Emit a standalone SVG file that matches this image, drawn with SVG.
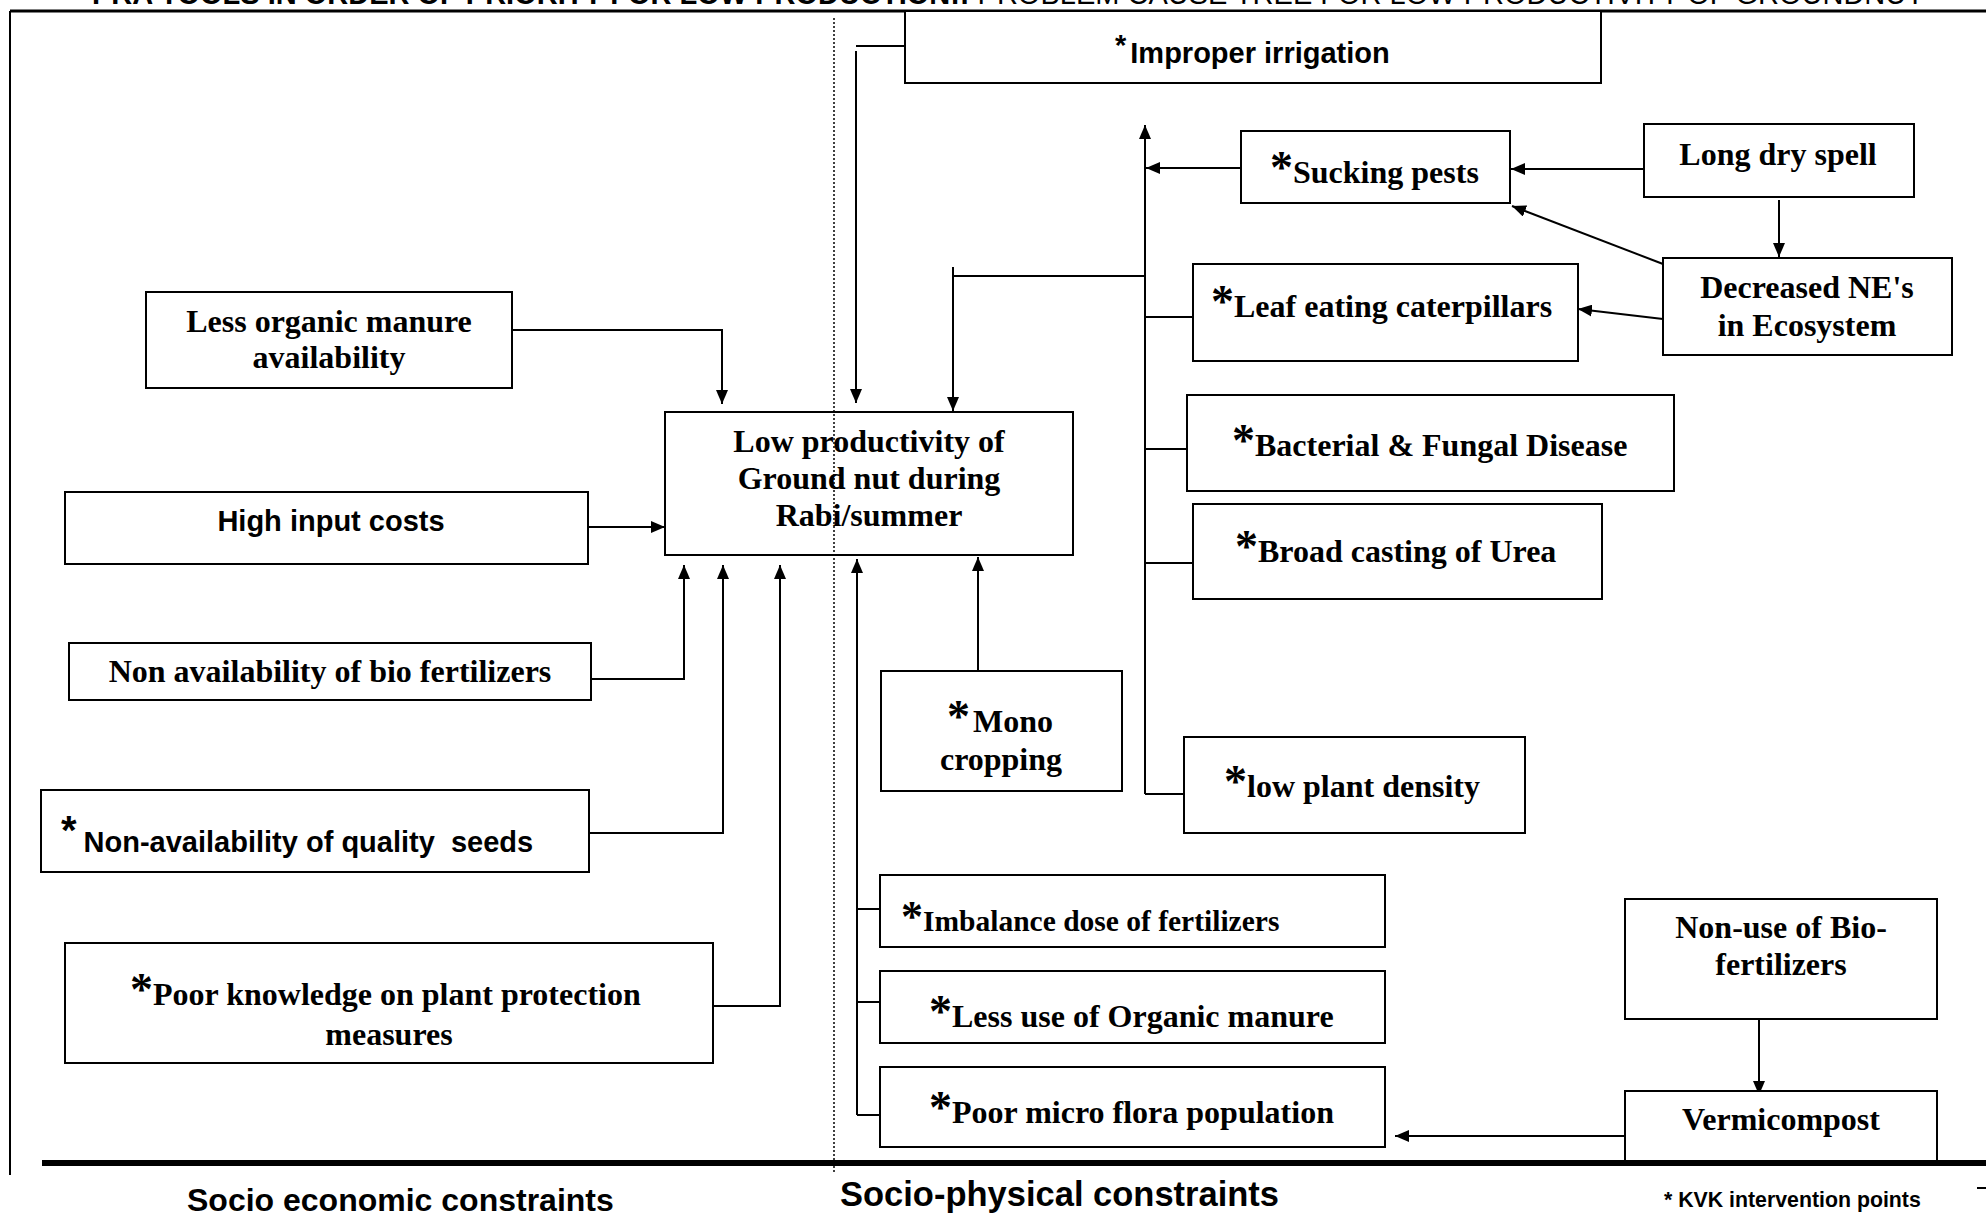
<svg xmlns="http://www.w3.org/2000/svg" width="1986" height="1215" viewBox="0 0 1986 1215">
<defs>
<marker id="ah" viewBox="0 0 14 12" refX="14" refY="6" markerWidth="14" markerHeight="12" markerUnits="userSpaceOnUse" orient="auto"><path d="M0,0 L14,6 L0,12 z" fill="#000"/></marker>
<style>
.box{fill:#fff;stroke:#000;stroke-width:2}
.c{fill:none;stroke:#000;stroke-width:2}
.a{marker-end:url(#ah)}
.tr{font-family:"Liberation Serif","Times New Roman",serif;font-weight:bold;font-size:32px;fill:#000}
.ta{font-family:"Liberation Sans",Arial,sans-serif;font-weight:bold;font-size:29px;fill:#000}
.m{text-anchor:middle}
.st{font-size:46px}
.frame{stroke:#000;fill:none}
</style>
</defs>
<rect width="1986" height="1215" fill="#fff"/>
<g id="title">
<text class="ta" x="92" y="4">PRA TOOLS IN ORDER OF PRIORITY FOR LOW PRODUCTION::<tspan font-weight="normal"> PROBLEM CAUSE TREE FOR LOW PRODUCTIVITY OF GROUNDNUT</tspan></text>
</g>
<g id="frame">
<line class="frame" x1="10" y1="11" x2="1986" y2="11" stroke-width="3"/>
<line class="frame" x1="10" y1="11" x2="10" y2="1175" stroke-width="2"/>
<line class="frame" x1="1977" y1="1188" x2="1986" y2="1188" stroke-width="2"/>
</g>
<g id="connectors">
<path class="c" d="M856,46 H916"/>
<path class="c a" d="M856,51 V403"/>
<path class="c a" d="M512,330 H722 V404"/>
<path class="c a" d="M1145,794 V125"/>
<path class="c" d="M1145,276 H953"/>
<path class="c a" d="M953,267 V411"/>
<path class="c" d="M1145,317 H1193 M1145,449 H1187 M1145,563 H1193 M1145,794 H1184"/>
<path class="c a" d="M1241,168 H1146"/>
<path class="c a" d="M1644,169 H1511"/>
<path class="c a" d="M1779,200 V257"/>
<path class="c a" d="M1663,264 L1512,206"/>
<path class="c a" d="M1663,319 L1578,309"/>
<path class="c a" d="M588,527 H665"/>
<path class="c a" d="M591,679 H684 V565"/>
<path class="c a" d="M589,833 H723 V565"/>
<path class="c a" d="M704,1006 H780 V565"/>
<path class="c a" d="M978,675 V557"/>
<path class="c a" d="M857,1115 V559"/>
<path class="c" d="M857,909 H880 M857,1002 H880 M857,1115 H880"/>
<path class="c a" d="M1759,1019 V1095"/>
<path class="c a" d="M1625,1136 H1395"/>
</g>
<g id="n_irrigation">
<rect class="box" x="905" y="11" width="696" height="72"/>
<text class="ta" x="1115" y="63"><tspan dy="-8">*</tspan><tspan dy="8" dx="4">Improper irrigation</tspan></text>
</g>
<g id="n_manure">
<rect class="box" x="146" y="292" width="366" height="96"/>
<text class="tr m" x="329" y="332">Less organic manure</text>
<text class="tr m" x="329" y="368">availability</text>
</g>
<g id="n_cost">
<rect class="box" x="65" y="492" width="523" height="72"/>
<text class="ta m" x="331" y="531">High input costs</text>
</g>
<g id="n_bio">
<rect class="box" x="69" y="643" width="522" height="57"/>
<text class="tr m" x="330" y="682">Non availability of bio fertilizers</text>
</g>
<g id="n_seeds">
<rect class="box" x="41" y="790" width="548" height="82"/>
<text class="ta" x="61" y="852" xml:space="preserve"><tspan font-size="40" dy="-8">*</tspan><tspan dy="8" dx="7">Non-availability of quality  seeds</tspan></text>
</g>
<g id="n_knowledge">
<rect class="box" x="65" y="943" width="648" height="120"/>
<text class="tr" x="130" y="1005"><tspan class="st">*</tspan>Poor knowledge on plant protection</text>
<text class="tr m" x="389" y="1045">measures</text>
</g>
<g id="n_center">
<rect class="box" x="665" y="412" width="408" height="143"/>
<text class="tr m" x="869" y="452">Low productivity of</text>
<text class="tr m" x="869" y="489">Ground nut during</text>
<text class="tr m" x="869" y="526">Rabi/summer</text>
</g>
<g id="n_mono">
<rect class="box" x="881" y="671" width="241" height="120"/>
<text class="tr" x="947" y="732"><tspan class="st">*</tspan><tspan dx="3">Mono</tspan></text>
<text class="tr m" x="1001" y="770">cropping</text>
</g>
<g id="n_sucking">
<rect class="box" x="1241" y="131" width="269" height="72"/>
<text class="tr" x="1270" y="183"><tspan class="st">*</tspan>Sucking pests</text>
</g>
<g id="n_dry">
<rect class="box" x="1644" y="124" width="270" height="73"/>
<text class="tr m" x="1778" y="165">Long dry spell</text>
</g>
<g id="n_ne">
<rect class="box" x="1663" y="258" width="289" height="97"/>
<text class="tr m" x="1807" y="298">Decreased NE's</text>
<text class="tr m" x="1807" y="336">in Ecosystem</text>
</g>
<g id="n_leaf">
<rect class="box" x="1193" y="264" width="385" height="97"/>
<text class="tr" x="1211" y="317"><tspan class="st">*</tspan>Leaf eating caterpillars</text>
</g>
<g id="n_disease">
<rect class="box" x="1187" y="395" width="487" height="96"/>
<text class="tr" x="1232" y="456"><tspan class="st">*</tspan>Bacterial &amp; Fungal Disease</text>
</g>
<g id="n_urea">
<rect class="box" x="1193" y="504" width="409" height="95"/>
<text class="tr" x="1235" y="562"><tspan class="st">*</tspan>Broad casting of Urea</text>
</g>
<g id="n_density">
<rect class="box" x="1184" y="737" width="341" height="96"/>
<text class="tr" x="1224" y="797"><tspan class="st">*</tspan>low plant density</text>
</g>
<g id="n_imbalance">
<rect class="box" x="880" y="875" width="505" height="72"/>
<text class="tr" x="901" y="931" style="font-size:29.5px"><tspan style="font-size:44px">*</tspan>Imbalance dose of fertilizers</text>
</g>
<g id="n_lessuse">
<rect class="box" x="880" y="971" width="505" height="72"/>
<text class="tr" x="929" y="1027"><tspan class="st">*</tspan>Less use of Organic manure</text>
</g>
<g id="n_microflora">
<rect class="box" x="880" y="1067" width="505" height="80"/>
<text class="tr" x="929" y="1123"><tspan class="st">*</tspan>Poor micro flora population</text>
</g>
<g id="n_nonuse">
<rect class="box" x="1625" y="899" width="312" height="120"/>
<text class="tr m" x="1781" y="938">Non-use of Bio-</text>
<text class="tr m" x="1781" y="975">fertilizers</text>
</g>
<g id="n_vermi">
<rect class="box" x="1625" y="1091" width="312" height="72"/>
<text class="tr m" x="1781" y="1130">Vermicompost</text>
</g>
<g id="labels">
<text class="ta" x="187" y="1211" style="font-size:32px">Socio economic constraints</text>
<text class="ta" x="840" y="1206" style="font-size:34.5px">Socio-physical constraints</text>
<text class="ta" x="1664" y="1207" style="font-size:21.3px">* KVK intervention points</text>
</g>
<g id="divider">
<line x1="834" y1="18" x2="834" y2="1172" stroke="#000" stroke-width="1.5" stroke-dasharray="2,2"/>
</g>
<g id="baseline">
<line x1="42" y1="1163" x2="1986" y2="1163" stroke="#000" stroke-width="6"/>
</g>
</svg>
